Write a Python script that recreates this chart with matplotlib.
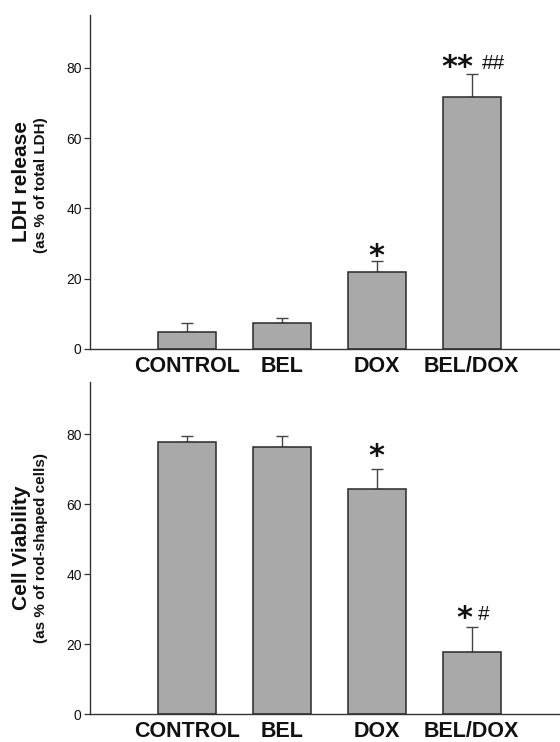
import matplotlib
matplotlib.use("Agg")
import matplotlib.pyplot as plt
import numpy as np

categories = ["CONTROL", "BEL", "DOX", "BEL/DOX"]
ldh_mean = [4.8, 7.3, 22.0, 71.7]
ldh_err = [2.5, 1.4, 3.1, 6.6]
ldh_marks = ["", "", "*", "**|##"]
via_mean = [77.8, 76.5, 64.4, 17.6]
via_err = [1.7, 3.0, 5.8, 7.4]
via_marks = ["", "", "*", "*|#"]
yticks = [0, 20, 40, 60, 80]

plt.rcParams['font.family'] = ['Liberation Sans', 'DejaVu Sans']

fig = plt.figure(figsize=(5.6, 7.42), dpi=100)
W, H = 560, 742

def make_ax(top_px, bottom_px):
    return fig.add_axes([90 / W, 1 - bottom_px / H, (560 - 90) / W, (bottom_px - top_px) / H])

ax1 = make_ax(15, 349)
ax2 = make_ax(382, 714)

x = np.arange(len(categories))

def draw(ax, means, errs, marks, offsets):
    ax.bar(x, means, width=0.61, color="#a9a9a9", edgecolor="#2a2a2a", linewidth=1.1, zorder=2)
    ax.errorbar(x, means, yerr=[np.zeros(len(errs)), errs], fmt="none", ecolor="#444444",
                elinewidth=1.0, capsize=4, capthick=1.0, zorder=1)
    ax.set_xlim(-1.02, 3.93)
    ax.set_ylim(0, 95)
    ax.set_yticks(yticks)
    ax.set_xticks(x)
    ax.set_xticklabels(categories, fontsize=15.5, fontweight="bold", color="#111111")
    ax.tick_params(axis="x", length=0, pad=5)
    ax.tick_params(axis="y", length=4, width=0.9, color="#333333", labelsize=10, pad=2,
                   labelcolor="#111111")
    for s in ["top", "right"]:
        ax.spines[s].set_visible(False)
    for s in ["left", "bottom"]:
        ax.spines[s].set_color("#333333")
        ax.spines[s].set_linewidth(1.0)
    for xi, m, e, mk, off in zip(x, means, errs, marks, offsets):
        if not mk:
            continue
        parts = mk.split("|")
        if len(parts) == 1:
            ax.annotate(parts[0], xy=(xi, m + e), xytext=(0, off), textcoords="offset pixels",
                        ha="center", va="center", fontsize=22, fontweight="bold",
                        family="DejaVu Sans", color="#111111")
        else:
            ax.annotate(parts[0], xy=(xi, m + e), xytext=(off[1], off[0]),
                        textcoords="offset pixels", ha="center", va="center",
                        fontsize=22, fontweight="bold", family="DejaVu Sans", color="#111111")
            ax.annotate(parts[1], xy=(xi, m + e), xytext=(off[2], off[0] + 4),
                        textcoords="offset pixels", ha="center", va="center",
                        fontsize=15, fontweight="normal", color="#111111")

draw(ax1, ldh_mean, ldh_err, ldh_marks, [0, 0, 4, (6, -14, 22)])
draw(ax2, via_mean, via_err, via_marks, [0, 0, 12, (8, -7, 12)])

fig.text(22 / W, 1 - 182 / H, "LDH release", rotation=90, ha="center", va="center",
         fontsize=15, fontweight="bold", color="#111111")
fig.text(41 / W, 1 - 185 / H, "(as % of total LDH)", rotation=90, ha="center", va="center",
         fontsize=11, fontweight="bold", color="#111111")
fig.text(22 / W, 1 - 548 / H, "Cell Viability", rotation=90, ha="center", va="center",
         fontsize=15, fontweight="bold", color="#111111")
fig.text(41 / W, 1 - 548 / H, "(as % of rod-shaped cells)", rotation=90, ha="center", va="center",
         fontsize=11, fontweight="bold", color="#111111")

fig.savefig("out.png", dpi=100)
